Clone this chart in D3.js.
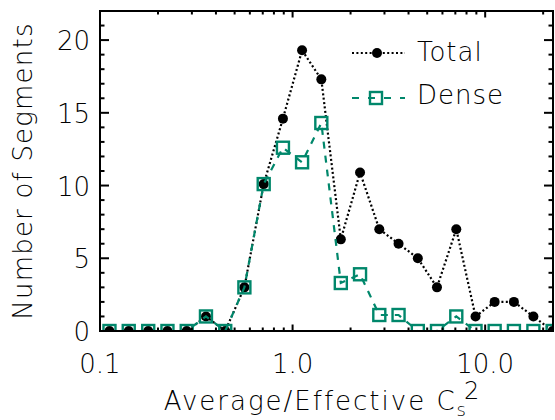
<!DOCTYPE html>
<meta charset="utf-8">
<style>
html, body { margin: 0; padding: 0; background: #fff; }
svg { display: block; }
text { font-family: 'DejaVu Sans', sans-serif; font-weight: 200; fill: #000; }
</style>
<body>
<script src="https://cdn.jsdelivr.net/npm/d3@7"></script>
<script>
// bin centres (log-spaced) and counts
var binCenters = [0.112, 0.141, 0.178, 0.224, 0.282, 0.355, 0.447, 0.562, 0.708, 0.891,
                  1.12, 1.41, 1.78, 2.24, 2.82, 3.55, 4.47, 5.62, 7.08, 8.91,
                  11.2, 14.1, 17.8, 22.4];
var totalCounts = [0, 0, 0, 0, 0, 1, 0, 3, 10.1, 14.6,
                   19.3, 17.3, 6.3, 10.9, 7, 6, 5, 3, 7, 1,
                   2, 2, 1, 0];
var denseCounts = [0, 0, 0, 0, 0, 1, 0, 3, 10.1, 12.6,
                   11.6, 14.3, 3.3, 3.9, 1.1, 1.1, 0, 0, 1, 0,
                   0, 0, 0, 0];
var xTickLabels = ['0.1', '1.0', '10.0'];
var yTickValues = [0, 5, 10, 15, 20];
var seriesNames = ['Total', 'Dense'];

var W = 555, H = 420;
var pL = 100, pR = 553, pT = 11, pB = 331;
var teal = '#00876b';

var svg = d3.select('body').append('svg')
  .attr('width', W)
  .attr('height', H);

var x = d3.scaleLog().domain([0.1, 22.5]).range([pL, pR]);
var y = d3.scaleLinear().domain([0, 22]).range([pB, pT]);

svg.append('clipPath').attr('id', 'plotclip')
  .append('rect')
  .attr('x', pL).attr('y', pT)
  .attr('width', pR - pL).attr('height', pB - pT);

var plot = svg.append('g').attr('clip-path', 'url(#plotclip)');

var totalData = binCenters.map(function(d, i) { return [d, totalCounts[i]]; });
var denseData = binCenters.map(function(d, i) { return [d, denseCounts[i]]; });

var line = d3.line()
  .x(function(d) { return x(d[0]); })
  .y(function(d) { return y(d[1]); });

// Total: dotted black with filled circles
plot.append('path')
  .datum(totalData)
  .attr('d', line)
  .attr('fill', 'none')
  .attr('stroke', '#000')
  .attr('stroke-width', 2.2)
  .attr('stroke-dasharray', '2,2.4');

plot.selectAll('circle.tot')
  .data(totalData)
  .enter().append('circle')
  .attr('class', 'tot')
  .attr('cx', function(d) { return x(d[0]); })
  .attr('cy', function(d) { return y(d[1]); })
  .attr('r', 5)
  .attr('fill', '#000');

// Dense: dashed teal with open squares
plot.append('path')
  .datum(denseData)
  .attr('d', line)
  .attr('fill', 'none')
  .attr('stroke', teal)
  .attr('stroke-width', 2.2)
  .attr('stroke-dasharray', '7,7');

plot.selectAll('rect.den')
  .data(denseData)
  .enter().append('rect')
  .attr('class', 'den')
  .attr('x', function(d) { return x(d[0]) - 6; })
  .attr('y', function(d) { return y(d[1]) - 6; })
  .attr('width', 12)
  .attr('height', 12)
  .attr('fill', 'none')
  .attr('stroke', teal)
  .attr('stroke-width', 2.4);

// frame and ticks (IDL style, ticks inward on all four sides)
var axes = svg.append('g').attr('stroke', '#000').attr('stroke-width', 2);
axes.append('rect')
  .attr('x', pL).attr('y', pT)
  .attr('width', pR - pL).attr('height', pB - pT)
  .attr('fill', 'none');

x.ticks().forEach(function(t) {
  var major = Math.abs(Math.log10(t) - Math.round(Math.log10(t))) < 1e-6;
  var len = major ? 6.5 : 3.5;
  axes.append('line').attr('x1', x(t)).attr('x2', x(t)).attr('y1', pB).attr('y2', pB - len);
  axes.append('line').attr('x1', x(t)).attr('x2', x(t)).attr('y1', pT).attr('y2', pT + len);
});

d3.range(0, 23, 1).forEach(function(v) {
  var len = v % 5 === 0 ? 9 : 4.5;
  axes.append('line').attr('x1', pL).attr('x2', pL + len).attr('y1', y(v)).attr('y2', y(v));
  axes.append('line').attr('x1', pR).attr('x2', pR - len).attr('y1', y(v)).attr('y2', y(v));
});

// tick labels
svg.selectAll('text.ylab')
  .data(yTickValues)
  .enter().append('text')
  .attr('class', 'ylab')
  .attr('x', 90)
  .attr('y', function(d) { return y(d) + 10; })
  .attr('text-anchor', 'end')
  .attr('font-size', 26)
  .text(function(d) { return d; });

svg.selectAll('text.xlab')
  .data(xTickLabels)
  .enter().append('text')
  .attr('class', 'xlab')
  .attr('x', function(d) { return x(+d); })
  .attr('y', 373)
  .attr('text-anchor', 'middle')
  .attr('font-size', 26)
  .text(function(d) { return d; });

// axis titles
var xt = svg.append('text')
  .attr('x', (pL + pR) / 2 - 4)
  .attr('y', 410)
  .attr('text-anchor', 'middle')
  .attr('font-size', 26)
  .attr('letter-spacing', 2);
xt.append('tspan').text('Average/Effective C');
xt.append('tspan').attr('dy', 6).attr('font-size', 18).text('s');
xt.append('tspan').attr('dx', -4).attr('dy', -17).attr('font-size', 24).text('2');

svg.append('text')
  .attr('transform', 'translate(32,' + ((pT + pB) / 2) + ') rotate(-90)')
  .attr('text-anchor', 'middle')
  .attr('font-size', 26)
  .attr('letter-spacing', 1.2)
  .text('Number of Segments');

// legend
var lg = svg.append('g');
lg.append('line')
  .attr('x1', 352).attr('x2', 405).attr('y1', 53).attr('y2', 53)
  .attr('stroke', '#000').attr('stroke-width', 2.2).attr('stroke-dasharray', '2,2.4');
lg.append('circle').attr('cx', 377).attr('cy', 53).attr('r', 5).attr('fill', '#000');
lg.append('line')
  .attr('x1', 352).attr('x2', 405).attr('y1', 98).attr('y2', 98)
  .attr('stroke', teal).attr('stroke-width', 2.2).attr('stroke-dasharray', '7,9');
lg.append('rect').attr('x', 370).attr('y', 92).attr('width', 12).attr('height', 12)
  .attr('fill', 'none').attr('stroke', teal).attr('stroke-width', 2.4);
lg.selectAll('text')
  .data(seriesNames)
  .enter().append('text')
  .attr('x', 417)
  .attr('y', function(d, i) { return 61 + i * 43; })
  .attr('font-size', 26)
  .attr('letter-spacing', 1)
  .text(function(d) { return d; });
</script>
</body>
